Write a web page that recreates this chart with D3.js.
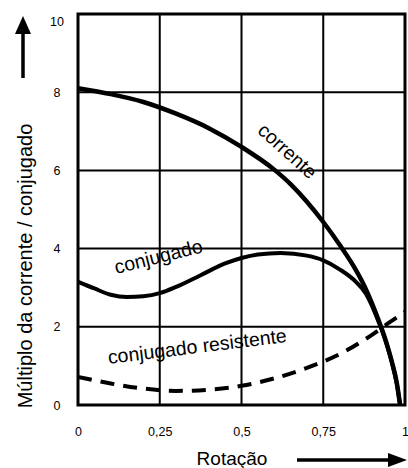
<!DOCTYPE html>
<html>
<head>
<meta charset="utf-8">
<script src="https://cdn.jsdelivr.net/npm/d3@7"></script>
<style>
  body { margin: 0; background: #fff; }
  svg { display: block; font-family: "Liberation Sans", Arial, sans-serif; }
</style>
</head>
<body>
<svg id="chart" width="408" height="468"></svg>
<script>
// values
const rotCorrente = [0, 0.1, 0.2, 0.3, 0.4, 0.5, 0.6, 0.65, 0.7, 0.75, 0.8, 0.85, 0.88, 0.91, 0.94, 0.96, 0.975, 0.985];
const corrente    = [8.1, 7.95, 7.75, 7.45, 7.08, 6.6, 6.02, 5.65, 5.2, 4.68, 4.1, 3.45, 2.97, 2.37, 1.68, 1.1, 0.56, 0];

const rotConjugado = [0, 0.05, 0.1, 0.15, 0.2, 0.25, 0.3, 0.375, 0.45, 0.5, 0.55, 0.62, 0.7, 0.75, 0.8, 0.85, 0.88, 0.91, 0.94, 0.96, 0.975, 0.985];
const conjugado    = [3.15, 2.98, 2.82, 2.76, 2.78, 2.86, 3.02, 3.32, 3.62, 3.76, 3.85, 3.89, 3.82, 3.7, 3.47, 3.15, 2.85, 2.32, 1.65, 1.08, 0.54, 0];

const rotResistente = [0, 0.1, 0.2, 0.3, 0.4, 0.5, 0.6, 0.7, 0.8, 0.9, 0.95, 1.0];
const resistente    = [0.72, 0.55, 0.42, 0.36, 0.39, 0.49, 0.68, 0.95, 1.3, 1.8, 2.1, 2.38];

const xTicks = [0, 0.25, 0.5, 0.75, 1];
const xTickLabels = ["0", "0,25", "0,5", "0,75", "1"];
const yTicks = [0, 2, 4, 6, 8, 10];

const svg = d3.select("#chart");

const x = d3.scaleLinear().domain([0, 1]).range([78, 405]);
const y = d3.scaleLinear().domain([0, 10]).range([405, 14]);

// grid
const grid = svg.append("g").attr("stroke", "#000").attr("stroke-width", 2);
grid.selectAll("line.h")
    .data(yTicks.slice(1, -1))
    .enter().append("line")
    .attr("x1", x(0)).attr("x2", x(1))
    .attr("y1", d => y(d)).attr("y2", d => y(d));
grid.selectAll("line.v")
    .data(xTicks.slice(1, -1))
    .enter().append("line")
    .attr("x1", d => x(d)).attr("x2", d => x(d))
    .attr("y1", y(0)).attr("y2", y(10));

svg.append("rect")
    .attr("x", x(0)).attr("y", y(10))
    .attr("width", x(1) - x(0)).attr("height", y(0) - y(10))
    .attr("fill", "none").attr("stroke", "#000").attr("stroke-width", 3);

// axes (labels only)
const yAxis = svg.append("g")
    .attr("transform", `translate(${x(0) - 13},0)`)
    .call(d3.axisLeft(y).tickValues(yTicks).tickSize(0).tickFormat(d3.format("d")));
yAxis.select(".domain").remove();
yAxis.selectAll("text")
    .attr("text-anchor", "middle").attr("x", -8)
    .attr("font-size", 12.5).attr("font-family", "Liberation Sans, Arial, sans-serif")
    .attr("dy", d => d === 10 ? "0.95em" : "0.32em");

const xAxis = svg.append("g")
    .attr("transform", `translate(0,${y(0) + 19})`)
    .call(d3.axisBottom(x).tickValues(xTicks).tickSize(0).tickFormat((d, i) => xTickLabels[i]));
xAxis.select(".domain").remove();
xAxis.selectAll("text")
    .attr("font-size", 12.5).attr("font-family", "Liberation Sans, Arial, sans-serif");

// curves
const plot = svg.append("g");
plot.append("clipPath").attr("id", "clip")
    .append("rect")
    .attr("x", x(0)).attr("y", y(10))
    .attr("width", x(1) - x(0)).attr("height", y(0) - y(10));

const line = d3.line()
    .x(d => x(d[0])).y(d => y(d[1]))
    .curve(d3.curveMonotoneX);

plot.append("path")
    .datum(d3.zip(rotResistente, resistente))
    .attr("d", line)
    .attr("clip-path", "url(#clip)")
    .attr("fill", "none").attr("stroke", "#000").attr("stroke-width", 4)
    .attr("stroke-dasharray", "14,9");

plot.append("path")
    .datum(d3.zip(rotConjugado, conjugado))
    .attr("d", line)
    .attr("fill", "none").attr("stroke", "#000").attr("stroke-width", 4);

plot.append("path")
    .datum(d3.zip(rotCorrente, corrente))
    .attr("d", line)
    .attr("fill", "none").attr("stroke", "#000").attr("stroke-width", 4.5);

// curve labels
const labels = [
    { text: "corrente", px: 283, py: 156, angle: 42 },
    { text: "conjugado", px: 160, py: 263, angle: -14 },
    { text: "conjugado resistente", px: 198, py: 353, angle: -7 }
];
svg.selectAll("text.curve-label")
    .data(labels)
    .enter().append("text")
    .attr("class", "curve-label")
    .attr("transform", d => `translate(${d.px},${d.py}) rotate(${d.angle})`)
    .attr("text-anchor", "middle")
    .attr("font-size", 19.5)
    .text(d => d.text);

// axis titles and arrows
svg.append("text")
    .attr("transform", "translate(32,266) rotate(-90)")
    .attr("text-anchor", "middle")
    .attr("font-size", 20)
    .text("Múltiplo da corrente / conjugado");

svg.append("text")
    .attr("x", 232).attr("y", 465)
    .attr("text-anchor", "middle")
    .attr("font-size", 19)
    .text("Rotação");

const arrows = svg.append("g").attr("fill", "#000").attr("stroke", "#000");
arrows.append("line")
    .attr("x1", 23).attr("x2", 23).attr("y1", 78).attr("y2", 30)
    .attr("stroke-width", 3.5);
arrows.append("path")
    .attr("stroke", "none")
    .attr("d", d3.line()([[23, 16], [31, 34], [15, 34]]));
arrows.append("line")
    .attr("x1", 297).attr("x2", 392).attr("y1", 460).attr("y2", 460)
    .attr("stroke-width", 3.5);
arrows.append("path")
    .attr("stroke", "none")
    .attr("d", d3.line()([[407, 460], [388, 453], [388, 467]]));
</script>
</body>
</html>
